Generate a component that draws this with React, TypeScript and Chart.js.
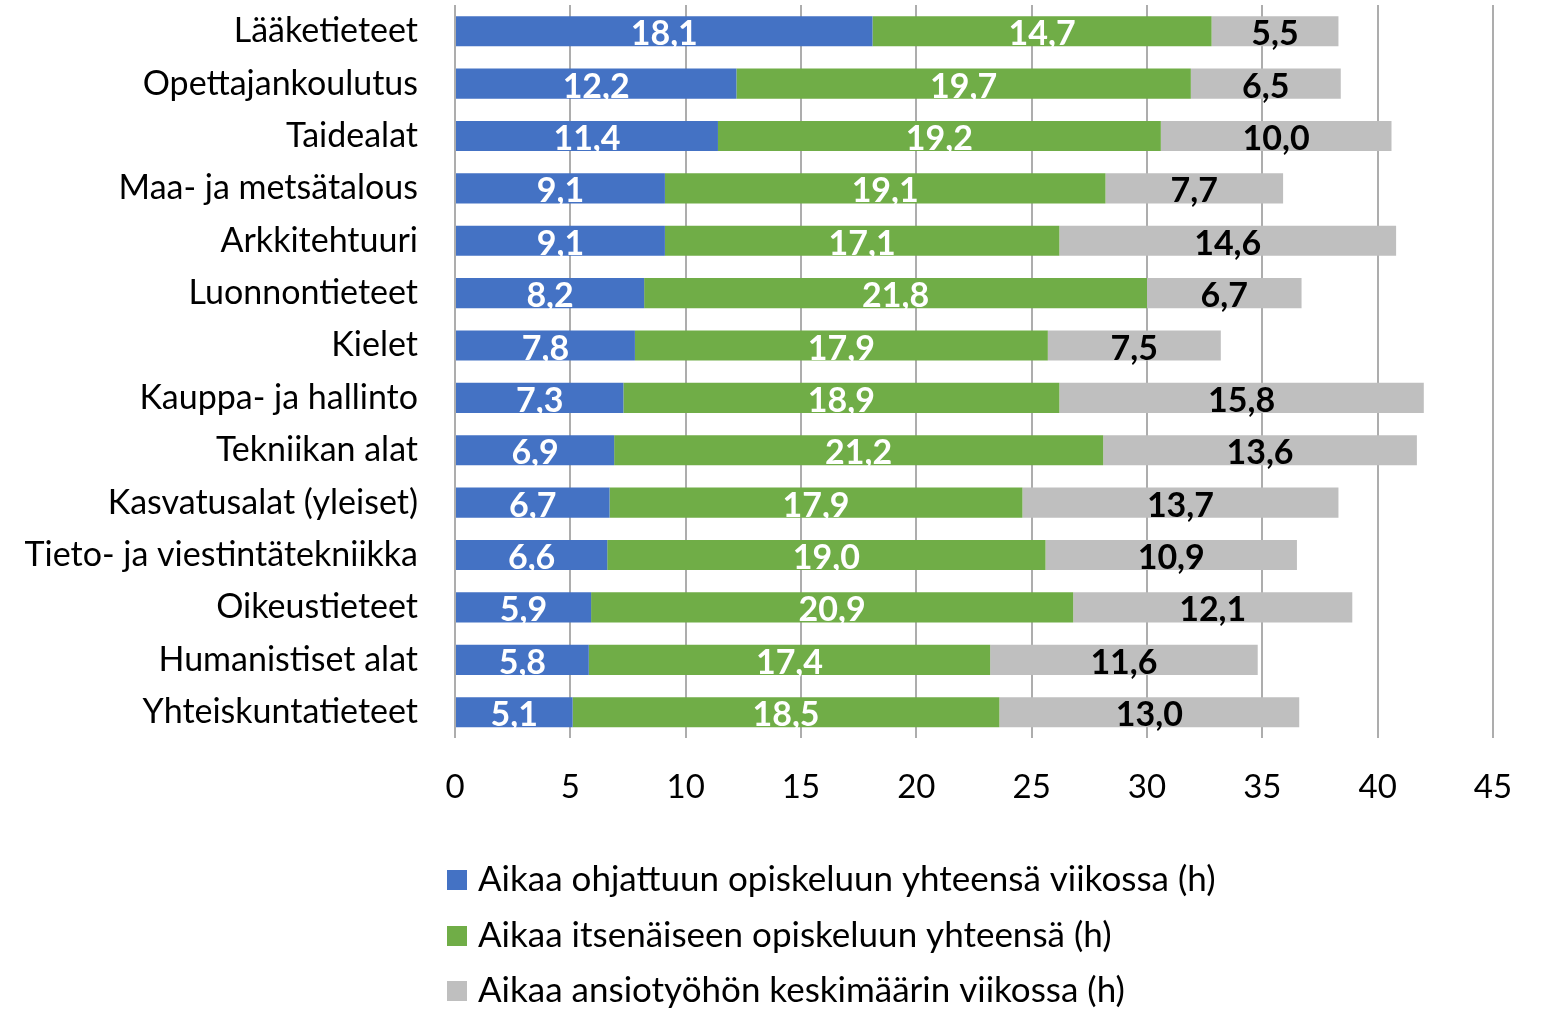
import React, { useEffect, useRef } from "react";
import { Chart, registerables } from "chart.js";

Chart.register(...registerables);

const categories = [
  "Lääketieteet",
  "Opettajankoulutus",
  "Taidealat",
  "Maa- ja metsätalous",
  "Arkkitehtuuri",
  "Luonnontieteet",
  "Kielet",
  "Kauppa- ja hallinto",
  "Tekniikan alat",
  "Kasvatusalat (yleiset)",
  "Tieto- ja viestintätekniikka",
  "Oikeustieteet",
  "Humanistiset alat",
  "Yhteiskuntatieteet",
];

const ohjattu = [18.1, 12.2, 11.4, 9.1, 9.1, 8.2, 7.8, 7.3, 6.9, 6.7, 6.6, 5.9, 5.8, 5.1];
const itsenainen = [14.7, 19.7, 19.2, 19.1, 17.1, 21.8, 17.9, 18.9, 21.2, 17.9, 19.0, 20.9, 17.4, 18.5];
const ansiotyo = [5.5, 6.5, 10.0, 7.7, 14.6, 6.7, 7.5, 15.8, 13.6, 13.7, 10.9, 12.1, 11.6, 13.0];

const seriesLabels = [
  "Aikaa ohjattuun opiskeluun yhteensä viikossa (h)",
  "Aikaa itsenäiseen opiskeluun yhteensä (h)",
  "Aikaa ansiotyöhön keskimäärin viikossa (h)",
];

const xTicks = [0, 5, 10, 15, 20, 25, 30, 35, 40, 45];

const FONT = "Lato, 'Open Sans', sans-serif";
const colors = ["#4472C4", "#70AD47", "#BFBFBF"];
const labelColors = ["#FFFFFF", "#FFFFFF", "#000000"];

const fmt = (v: number) => v.toFixed(1).replace(".", ",");

const dataLabelPlugin = {
  id: "dataLabels",
  afterDatasetsDraw(chart: any) {
    const ctx = chart.ctx;
    ctx.save();
    ctx.font = `bold 34px ${FONT}`;
    ctx.textAlign = "center";
    ctx.textBaseline = "alphabetic";
    chart.data.datasets.forEach((ds: any, di: number) => {
      const meta = chart.getDatasetMeta(di);
      meta.data.forEach((bar: any, i: number) => {
        const x = (bar.x + bar.base) / 2;
        ctx.fillStyle = labelColors[di];
        ctx.fillText(fmt(ds.data[i]), x, bar.y + 14);
      });
    });
    ctx.restore();
  },
};

const legendPlugin = {
  id: "customLegend",
  afterDraw(chart: any) {
    const ctx = chart.ctx;
    ctx.save();
    ctx.font = `35px ${FONT}`;
    ctx.textBaseline = "middle";
    ctx.textAlign = "left";
    const rows = [880, 936, 991];
    chart.data.datasets.forEach((ds: any, di: number) => {
      const y = rows[di];
      ctx.fillStyle = colors[di];
      ctx.fillRect(447, y - 10, 20, 20);
      ctx.fillStyle = "#000000";
      ctx.fillText(ds.label, 478, y);
    });
    ctx.restore();
  },
};

export default function App() {
  const ref = useRef<HTMLCanvasElement | null>(null);
  useEffect(() => {
    if (!ref.current) return;
    const chart = new Chart(ref.current, {
      type: "bar",
      data: {
        labels: categories,
        datasets: [ohjattu, itsenainen, ansiotyo].map((d, i) => ({
          label: seriesLabels[i],
          data: d,
          backgroundColor: colors[i],
          borderWidth: 0,
          categoryPercentage: 1,
          barPercentage: 0.575,
        })),
      },
      options: {
        indexAxis: "y",
        animation: false,
        responsive: true,
        maintainAspectRatio: false,
        layout: { padding: { top: 5, right: 49, left: 0, bottom: 173 } },
        plugins: {
          legend: { display: false },
          tooltip: { enabled: false },
        },
        scales: {
          x: {
            stacked: true,
            min: 0,
            max: 45,
            afterBuildTicks(scale: any) {
              scale.ticks = xTicks.map((v) => ({ value: v }));
            },
            afterFit(scale: any) {
              scale.paddingLeft = 0;
              scale.paddingRight = 0;
            },
            grid: { color: "#ADADAD", lineWidth: 2, drawTicks: false },
            border: { display: false },
            ticks: {
              padding: 29,
              color: "#000000",
              font: { family: FONT, size: 33 },
              maxRotation: 0,
            },
          },
          y: {
            stacked: true,
            afterFit(scale: any) {
              scale.width = 455;
              scale.paddingTop = 0;
              scale.paddingBottom = 0;
            },
            grid: { display: false, drawTicks: false },
            border: { display: false },
            ticks: {
              padding: 37,
              color: "#000000",
              font: { family: FONT, size: 34 },
            },
          },
        },
      },
      plugins: [dataLabelPlugin, legendPlugin],
    });
    return () => chart.destroy();
  }, []);
  return (
    <div style={{ position: "absolute", left: 0, top: 0, width: 1542, height: 1009, background: "#fff" }}>
      <canvas ref={ref} />
    </div>
  );
}
